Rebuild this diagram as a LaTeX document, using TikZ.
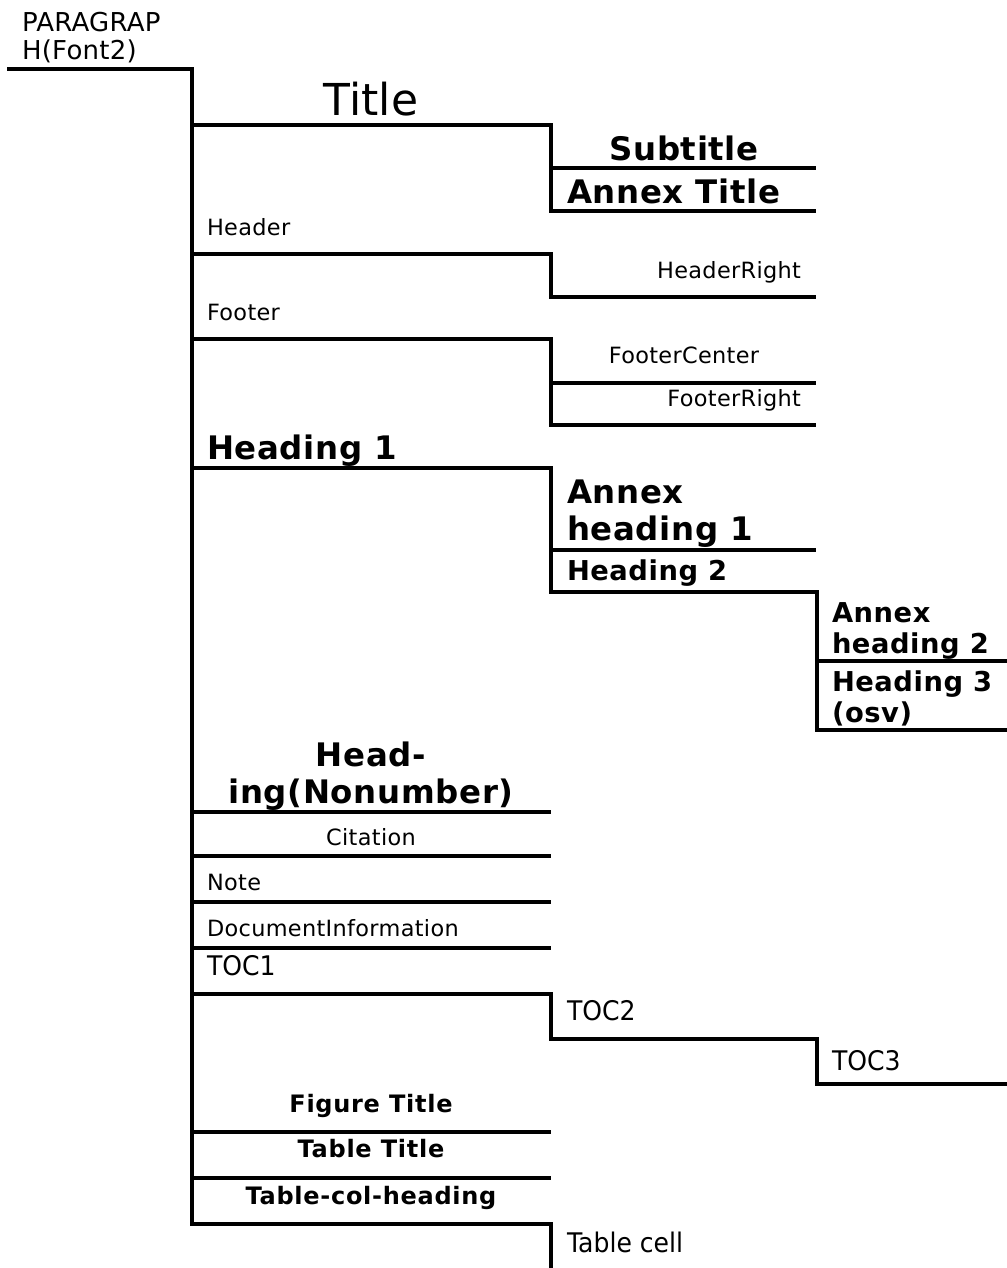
\documentclass[tikz,border=0pt]{standalone}
\usepackage{fontspec}
\setmainfont{DejaVu Sans}
\newfontfamily\condfont{DejaVu Sans}[FakeStretch=0.93]
\newcommand\fsm{\fontsize{16.8pt}{19pt}\selectfont\addfontfeature{LetterSpace=1.5}}
\newcommand\fpara{\fontsize{19.5pt}{21pt}\selectfont\addfontfeature{LetterSpace=1}}
\newcommand\ftitle{\fontsize{33pt}{38pt}\selectfont}
\newcommand\fbl{\bfseries\fontsize{24.3pt}{27.75pt}\selectfont\addfontfeature{LetterSpace=2}}
\newcommand\fbm{\bfseries\fontsize{20.5pt}{23.25pt}\selectfont\addfontfeature{LetterSpace=2}}
\newcommand\fbs{\bfseries\fontsize{18pt}{20pt}\selectfont\addfontfeature{LetterSpace=3}}
\newcommand\fcond{\condfont\fontsize{20.25pt}{24pt}\selectfont}
\begin{document}
\begin{tikzpicture}[x=0.75pt,y=-0.75pt,line width=3.7pt,line join=miter,
  lbl/.style={inner sep=0pt,outer sep=0pt,anchor=base west,align=left},
  ctr/.style={inner sep=0pt,outer sep=0pt,anchor=base,align=center},
  rgt/.style={inner sep=0pt,outer sep=0pt,anchor=base east,align=right}]
\useasboundingbox (0,0) rectangle (1007,1268);
% connectors
\draw (7,69) -- (192,69) -- (192,1224) -- (551,1224) -- (551,1268);
\draw (192,125) -- (551,125) -- (551,211) -- (816,211);
\draw (551,168) -- (816,168);
\draw (192,254) -- (551,254) -- (551,297) -- (816,297);
\draw (192,339) -- (551,339) -- (551,425) -- (816,425);
\draw (551,383) -- (816,383);
\draw (192,468) -- (551,468) -- (551,592) -- (817,592) -- (817,730) -- (1007,730);
\draw (551,550) -- (816,550);
\draw (817,661) -- (1007,661);
\draw (192,812) -- (551,812);
\draw (192,856) -- (551,856);
\draw (192,902) -- (551,902);
\draw (192,948) -- (551,948);
\draw (192,994) -- (551,994) -- (551,1039) -- (817,1039) -- (817,1084) -- (1007,1084);
\draw (192,1132) -- (551,1132);
\draw (192,1178) -- (551,1178);
% labels (multi-line nodes: base = last line)
\node[lbl,font=\fpara] (para) at (22,59) {PARAGRAP\\H(Font2)};
\node[ctr,font=\ftitle] (title) at (371,115) {Title};
\node[ctr,font=\fbl] (subtitle) at (684,160) {Subtitle};
\node[lbl,font=\fbl] (annextitle) at (567,203) {Annex Title};
\node[lbl,font=\fsm] (header) at (207,235) {Header};
\node[rgt,font=\fsm] (headerright) at (801,278) {HeaderRight};
\node[lbl,font=\fsm] (footer) at (207,320) {Footer};
\node[ctr,font=\fsm] (footercenter) at (684,363) {FooterCenter};
\node[rgt,font=\fsm] (footerright) at (801,406) {FooterRight};
\node[lbl,font=\fbl] (h1) at (207,459) {Heading 1};
\node[lbl,font=\fbl] (ah1) at (567,540) {Annex\\heading 1};
\node[lbl,font=\fbm] (h2) at (567,580) {Heading 2};
\node[lbl,font=\fbm] (ah2) at (832,653) {Annex\\heading 2};
\node[lbl,font=\fbm] (h3) at (832,722) {Heading 3\\(osv)};
\node[ctr,font=\fbl] (hnon) at (371,803) {Head-\\ing(Nonumber)};
\node[ctr,font=\fsm] (citation) at (371,845) {Citation};
\node[lbl,font=\fsm] (note) at (207,890) {Note};
\node[lbl,font=\fsm] (docinfo) at (207,936) {DocumentInformation};
\node[lbl,font=\fcond] (toc1) at (207,975) {TOC1};
\node[lbl,font=\fcond] (toc2) at (567,1020) {TOC2};
\node[lbl,font=\fcond] (toc3) at (832,1070) {TOC3};
\node[ctr,font=\fbs] (figtitle) at (371,1112) {Figure Title};
\node[ctr,font=\fbs] (tabtitle) at (371,1157) {Table Title};
\node[ctr,font=\fbs] (tabcol) at (371,1204) {Table-col-heading};
\node[lbl,font=\fcond] (tabcell) at (567,1252) {Table cell};
\end{tikzpicture}
\end{document}
